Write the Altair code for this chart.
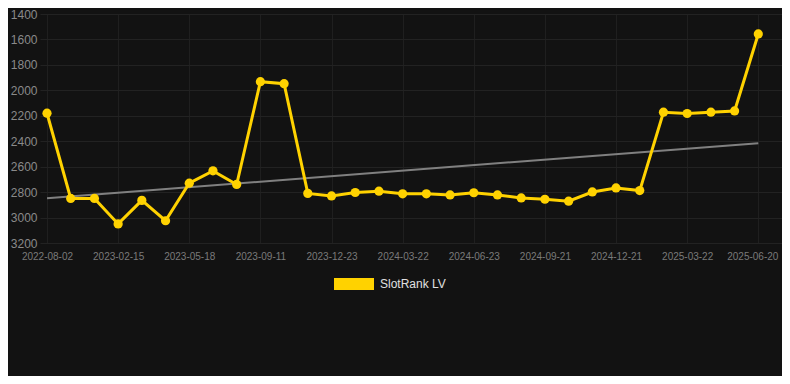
import altair as alt
import pandas as pd

dates = [
    "2022-08-02", "2022-10-28", "2022-12-20", "2023-02-15", "2023-03-18", "2023-04-17",
    "2023-05-18", "2023-06-26", "2023-08-04", "2023-09-11", "2023-10-15", "2023-11-19",
    "2023-12-23", "2024-01-22", "2024-02-21", "2024-03-22", "2024-04-22", "2024-05-23",
    "2024-06-23", "2024-07-23", "2024-08-22", "2024-09-21", "2024-10-21", "2024-11-21",
    "2024-12-21", "2025-01-20", "2025-02-20", "2025-03-22", "2025-04-21", "2025-05-21",
    "2025-06-20",
]
ranks = [
    2180, 2850, 2850, 3050, 2865, 3025, 2730, 2633, 2740, 1932, 1948, 2810,
    2830, 2803, 2793, 2813, 2813, 2822, 2805, 2822, 2846, 2856, 2871, 2799,
    2767, 2788, 2172, 2182, 2172, 2162, 1557,
]
trend_idx = [0, 30]
trend_vals = [2848, 2415]
series_name = "SlotRank LV"
y_ticks = [1400, 1600, 1800, 2000, 2200, 2400, 2600, 2800, 3000, 3200]
x_ticks = [0, 3, 6, 9, 12, 15, 18, 21, 24, 27, 30]

df = pd.DataFrame({"idx": list(range(len(dates))), "date": dates, "rank": ranks, "series": series_name})
trend_df = pd.DataFrame({"idx": trend_idx, "rank": trend_vals})

label_arr = "[" + ",".join("'" + d + "'" for d in dates) + "]"

x_enc = alt.X(
    "idx:Q",
    scale=alt.Scale(domain=[-0.295, 31.0], nice=False, zero=False),
    axis=alt.Axis(
        values=x_ticks,
        labelExpr=label_arr + "[datum.value]",
        labelOffset={"condition": {"test": "datum.value == 30", "value": -6}, "value": 0},
        title=None,
        grid=True,
        gridColor="#1f1f1f",
        domain=False,
        ticks=False,
        labelColor="#7a7a7a",
        labelFontSize=10,
        labelFont="Liberation Sans",
        labelPadding=8,
    ),
)
y_enc = alt.Y(
    "rank:Q",
    scale=alt.Scale(domain=[1400, 3200], reverse=True, nice=False, zero=False),
    axis=alt.Axis(
        values=y_ticks,
        format="d",
        title=None,
        grid=True,
        gridColor="#222222",
        domain=False,
        ticks=False,
        labelColor="#8a8a8a",
        labelFontSize=12,
        labelFont="Liberation Sans",
        labelPadding=3,
    ),
)

color = alt.Color(
    "series:N",
    scale=alt.Scale(domain=[series_name], range=["#FFD200"]),
    legend=alt.Legend(
        title=None,
        orient="none",
        legendX=294,
        legendY=250,
        symbolType="M-1,-0.3L1,-0.3L1,0.3L-1,0.3Z",
        symbolSize=1600,
        symbolFillColor="#FFD200",
        symbolStrokeWidth=0,
        symbolOpacity=1,
        labelColor="#e0e0e0",
        labelFontSize=12,
        labelFont="Liberation Sans",
        labelOffset=6,
    ),
)

trend = alt.Chart(trend_df).mark_line(color="#808080", strokeWidth=2).encode(x=x_enc, y=y_enc)
line = alt.Chart(df).mark_line(strokeWidth=3).encode(x=x_enc, y=y_enc, color=color)
pts = alt.Chart(df).mark_circle(size=85, opacity=1).encode(x=x_enc, y=y_enc, color=color)

chart = (
    alt.layer(trend, line, pts)
    .properties(
        width=742,
        height=229,
        background="#121212",
        padding={"left": 32, "top": 6, "right": 0, "bottom": 133},
        autosize=alt.AutoSizeParams(type="none"),
    )
    .configure_view(stroke=None)
)

chart.save("out.html", embed_options={"renderer": "svg", "actions": False})
